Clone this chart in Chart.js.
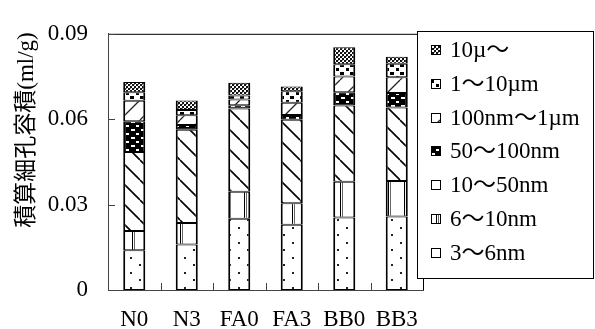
<!DOCTYPE html>
<html>
<head>
<meta charset="utf-8">
<style>
  html, body { margin: 0; padding: 0; background: #fff; }
  canvas { display: block; }
</style>
<script src="https://cdn.jsdelivr.net/npm/chart.js@4"></script>
</head>
<body>
<canvas id="poreChart" width="595" height="329"></canvas>
<script>
"use strict";
const categories = ['N0', 'N3', 'FA0', 'FA3', 'BB0', 'BB3'];
const sizeLabels = ['3～6nm', '6～10nm', '10～50nm', '50～100nm', '100nm～1µm', '1～10µm', '10µ～'];
const s3to6nm = [0.0140, 0.0160, 0.0250, 0.0229, 0.0255, 0.0258];
const s6to10nm = [0.0067, 0.0075, 0.0095, 0.0076, 0.0125, 0.0125];
const s10to50nm = [0.0278, 0.0328, 0.0293, 0.0293, 0.0268, 0.0258];
const s50to100nm = [0.0108, 0.0017, 0.0011, 0.0017, 0.0047, 0.0051];
const s100nmTo1um = [0.0072, 0.0034, 0.0020, 0.0043, 0.0055, 0.0055];
const s1to10um = [0.0030, 0.0018, 0.0014, 0.0040, 0.0043, 0.0048];
const s10umUp = [0.0036, 0.0034, 0.0045, 0.0017, 0.0060, 0.0024];
const yTicks = [0, 0.03, 0.06, 0.09];
const yTickLabels = ['0', '0.03', '0.06', '0.09'];
const yTitle = '積算細孔容積(ml/g)';

const FONT = '"Times New Roman", "Liberation Serif", Times, "Noto Sans CJK JP", serif';

document.addEventListener('DOMContentLoaded', () => {
    const canvas = document.getElementById('poreChart');
    if (!canvas) {
        console.error('Canvas element not found');
        return;
    }
    const ctx = canvas.getContext('2d');
    if (!ctx) {
        console.error('Unable to get canvas context');
        return;
    }

    // small tiles for the black & white fills
    function makePattern(w, h, draw) {
        const c = document.createElement('canvas');
        c.width = w;
        c.height = h;
        const g = c.getContext('2d');
        g.fillStyle = '#fff';
        g.fillRect(0, 0, w, h);
        g.fillStyle = '#000';
        g.strokeStyle = '#000';
        draw(g, w, h);
        return ctx.createPattern(c, 'repeat');
    }
    function diag(g, w, h, down, lw, color) {
        g.strokeStyle = color;
        g.lineWidth = lw;
        g.beginPath();
        for (let k = -1; k <= 1; k++) {
            if (down) {
                g.moveTo(k * w, 0);
                g.lineTo(k * w + w, h);
            } else {
                g.moveTo(k * w, h);
                g.lineTo(k * w + w, 0);
            }
        }
        g.stroke();
    }

    const patterns = [
        makePattern(18, 15, g => {
            g.fillStyle = '#222';
            g.fillRect(4, 2, 2, 2);
            g.fillRect(13, 9, 2, 2);
        }),
        makePattern(16, 4, g => {
            g.fillRect(4, 0, 1, 4);
            g.fillStyle = '#666';
            g.fillRect(6, 0, 1, 4);
        }),
        makePattern(20, 20, (g, w, h) => diag(g, w, h, true, 1.6, '#000')),
        makePattern(10, 8, g => {
            g.fillRect(0, 0, 10, 8);
            g.fillStyle = '#fff';
            g.fillRect(1, 1, 4, 2);
            g.fillRect(6, 5, 3, 2);
        }),
        makePattern(20, 20, (g, w, h) => diag(g, w, h, false, 1.3, '#222')),
        makePattern(10, 8, g => {
            g.fillRect(0, 0, 4, 3);
            g.fillRect(6, 4, 3, 3);
        }),
        makePattern(4, 4, g => {
            g.fillStyle = '#111';
            g.fillRect(0, 0, 2, 2);
            g.fillRect(2, 2, 2, 2);
            g.fillStyle = '#888';
            g.fillRect(2, 0, 1, 1);
        })
    ];

    const seriesValues = [s3to6nm, s6to10nm, s10to50nm, s50to100nm, s100nmTo1um, s1to10um, s10umUp];
    const datasets = seriesValues.map((values, i) => ({
        label: sizeLabels[i],
        data: values,
        backgroundColor: patterns[i],
        borderColor: '#000',
        borderWidth: { top: 1, bottom: 1, left: 2, right: 2 },
        borderSkipped: false,
        categoryPercentage: 1,
        barPercentage: 0.42
    }));

    const decorPlugin = {
        id: 'decor',
        afterDraw(chart) {
            const c = chart.ctx;
            const area = chart.chartArea;
            const xScale = chart.scales.x;
            const yScale = chart.scales.y;
            c.save();

            // frame top and right
            c.strokeStyle = '#000';
            c.lineWidth = 1;
            c.beginPath();
            c.moveTo(area.left, area.top + 0.5);
            c.lineTo(area.right + 0.5, area.top + 0.5);
            c.lineTo(area.right + 0.5, area.bottom);
            c.stroke();

            // inward ticks on y
            c.strokeStyle = '#444';
            c.beginPath();
            yScale.ticks.forEach(t => {
                const py = Math.round(yScale.getPixelForValue(t.value)) + 0.5;
                c.moveTo(area.left, py);
                c.lineTo(area.left + 7, py);
            });
            // upward ticks on x between categories
            for (let i = 1; i < categories.length; i++) {
                const px = Math.round((xScale.getPixelForValue(i - 1) + xScale.getPixelForValue(i)) / 2) + 0.5;
                c.moveTo(px, area.bottom);
                c.lineTo(px, area.bottom - 7);
            }
            c.stroke();

            // y title
            c.fillStyle = '#000';
            c.font = '23px ' + FONT;
            c.textAlign = 'center';
            c.textBaseline = 'middle';
            c.translate(27, 130);
            c.rotate(-Math.PI / 2);
            c.fillText(yTitle, 0, 0);
            c.setTransform(1, 0, 0, 1, 0, 0);

            // legend box
            const lx = 417, ly = 31, lw = 176, lh = 247;
            c.fillStyle = '#fff';
            c.fillRect(lx, ly, lw, lh);
            c.strokeStyle = '#000';
            c.strokeRect(lx + 0.5, ly + 0.5, lw, lh);
            c.font = '23px ' + FONT;
            c.textAlign = 'left';
            c.textBaseline = 'middle';
            const order = chart.data.datasets.slice().reverse();
            order.forEach((ds, k) => {
                const cy = 50 + k * 33.8;
                c.fillStyle = ds.backgroundColor;
                c.fillRect(431, Math.round(cy - 5), 10, 10);
                c.strokeStyle = '#000';
                c.strokeRect(431.5, Math.round(cy - 5) + 0.5, 9, 9);
                c.fillStyle = '#000';
                c.fillText(ds.label, 450, cy + 1);
            });
            c.restore();
        }
    };

    const chartConfig = {
        type: 'bar',
        data: {
            labels: categories,
            datasets: datasets
        },
        options: {
            responsive: false,
            animation: false,
            devicePixelRatio: 1,
            layout: { padding: { left: 0, right: 172, top: 22, bottom: 0 } },
            plugins: {
                legend: { display: false },
                tooltip: { enabled: false }
            },
            scales: {
                x: {
                    stacked: true,
                    grid: { display: false },
                    border: { display: true, color: '#444', width: 1 },
                    ticks: {
                        color: '#000',
                        font: { family: FONT, size: 23 },
                        padding: 8,
                        maxRotation: 0
                    },
                    afterFit: scale => { scale.height = 39; }
                },
                y: {
                    stacked: true,
                    min: 0,
                    max: 0.09,
                    grid: { display: false, drawTicks: false },
                    border: { display: true, color: '#444', width: 1 },
                    afterBuildTicks: scale => {
                        scale.ticks = yTicks.map(v => ({ value: v }));
                    },
                    ticks: {
                        color: '#000',
                        font: { family: FONT, size: 23 },
                        padding: 20,
                        callback: (value, index) => yTickLabels[index]
                    },
                    afterFit: scale => { scale.width = 108; }
                }
            }
        },
        plugins: [decorPlugin]
    };
    new Chart(ctx, chartConfig);
});
</script>
</body>
</html>
